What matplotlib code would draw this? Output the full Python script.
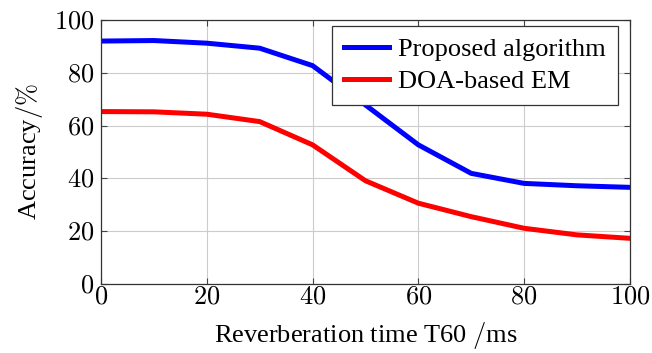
import matplotlib.pyplot as plt
import matplotlib.ticker as mticker

plt.rcParams["font.family"] = ["Liberation Serif", "DejaVu Serif"]
plt.rcParams["mathtext.fontset"] = "cm"

# reverberation time T60 (ms)
t60 = [0, 10, 20, 30, 40, 50, 60, 70, 80, 90, 100]
# accuracy (%)
proposed = [92.0, 92.2, 91.2, 89.3, 82.7, 67.8, 52.7, 41.9, 38.1, 37.2, 36.6]
doa_em = [65.3, 65.2, 64.3, 61.5, 52.7, 39.1, 30.6, 25.5, 21.1, 18.6, 17.3]

FS = 19

fig = plt.figure(figsize=(6.52, 3.53), dpi=100)
ax = fig.add_axes([0.155, 0.1955, 0.811, 0.748])

ax.plot(t60, proposed, color="#0000ff", lw=3.6, label="Proposed algorithm")
ax.plot(t60, doa_em, color="#ff0000", lw=3.6, label="DOA-based EM")

ax.set_xlim(0, 100)
ax.set_ylim(0, 100)
ax.xaxis.set_major_locator(mticker.MultipleLocator(20))
ax.yaxis.set_major_locator(mticker.MultipleLocator(20))
fmt = mticker.FuncFormatter(lambda v, p: f"${v:.0f}$")
ax.xaxis.set_major_formatter(fmt)
ax.yaxis.set_major_formatter(fmt)
ax.tick_params(direction="in", top=True, right=True, labelsize=FS, length=4,
               width=0.8, color="#444444")
ax.tick_params(axis="x", pad=2)
ax.tick_params(axis="y", pad=5)
ax.grid(True, color="#cccccc", lw=0.8)
for s in ax.spines.values():
    s.set_color("#333333")
    s.set_linewidth(0.9)

ax.set_xlabel(r"Reverberation time T60 $/$ms", fontsize=FS, labelpad=8)
ax.set_ylabel(r"Accuracy$/\%$", fontsize=FS, labelpad=6)

leg = ax.legend(loc="upper right", bbox_to_anchor=(0.977, 0.977),
                borderaxespad=0, fontsize=FS, fancybox=False, framealpha=1,
                edgecolor="#333333", handlelength=1.7, handletextpad=0.35,
                labelspacing=0.3, borderpad=0.45)
leg.get_frame().set_linewidth(0.9)

fig.savefig("out.png", dpi=100)
